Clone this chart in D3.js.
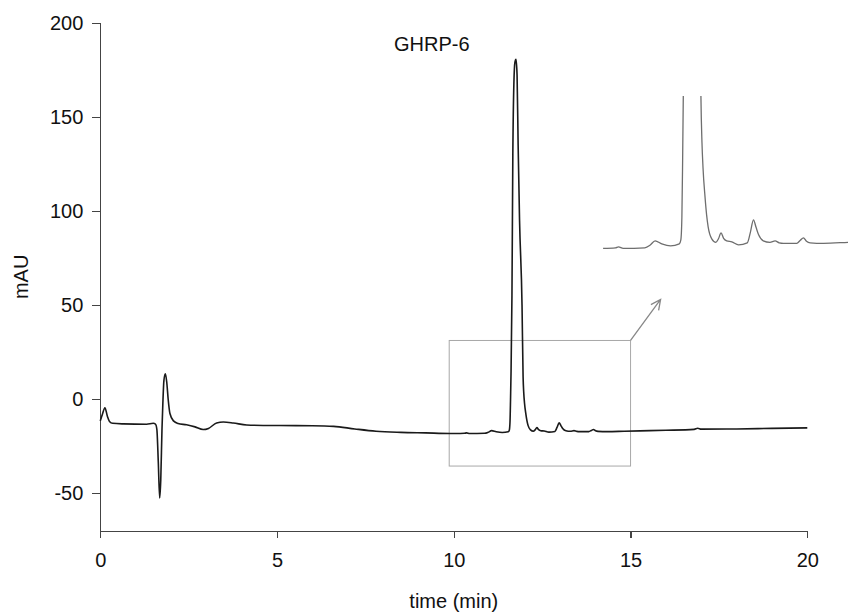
<!DOCTYPE html>
<html>
<head>
<meta charset="utf-8">
<script src="https://cdn.jsdelivr.net/npm/d3@7"></script>
<style>
  body { margin: 0; background: #fff; }
  svg text { font-family: "Liberation Sans", Arial, sans-serif; fill: #111; }
  .axis path, .axis line { stroke: #444; stroke-width: 1.2; shape-rendering: crispEdges; }
  .axis text { font-size: 20px; }
  .trace { fill: none; stroke: #1a1a1a; stroke-width: 1.6; }
  .trace-inset { fill: none; stroke: #6e6e6e; stroke-width: 1.3; }
  .zoom-box { fill: none; stroke: #a8a8a8; stroke-width: 1; }
  .arrow { fill: none; stroke: #888; stroke-width: 1.3; }
</style>
</head>
<body>
<svg id="chart"></svg>
<script>
'use strict';

var times = [0.00, 0.06, 0.13, 0.20, 0.26, 0.35, 0.65, 1.31, 1.50, 1.56, 1.60, 1.64, 1.68, 1.71, 1.745,
  1.77, 1.80, 1.84, 1.88, 1.92, 1.97, 2.07, 2.20, 2.44, 2.68, 2.91, 3.06, 3.29, 3.48, 3.76, 4.14,
  5.08, 6.00, 6.60, 7.20, 7.80, 8.50, 9.20, 9.90, 10.06, 10.30, 10.36, 10.45, 10.87, 10.97, 11.07,
  11.20, 11.37, 11.54, 11.57, 11.59, 11.605, 11.62, 11.645, 11.67, 11.70, 11.73, 11.76, 11.79, 11.82,
  11.86, 11.93, 11.96, 11.98, 12.00, 12.04, 12.07, 12.10, 12.17, 12.25, 12.30, 12.35, 12.40, 12.46,
  12.56, 12.69, 12.86, 12.92, 12.98, 13.03, 13.08, 13.17, 13.30, 13.40, 13.48, 13.56, 13.82, 13.89,
  13.95, 14.01, 14.08, 14.34, 14.82, 15.27, 16.00, 16.80, 16.90, 17.00, 18.00, 19.00, 20.00];
var mAU = [-11.5, -8.0, -4.5, -9.0, -11.8, -12.8, -13.1, -13.3, -12.8, -13.2, -16.0, -33.0, -52.5, -43.0, -16.0,
  -2.0, 10.0, 13.5, 9.0, 0.0, -7.6, -11.5, -12.9, -13.6, -14.7, -16.1, -15.5, -12.6, -12.1, -12.6, -13.7,
  -14.0, -14.1, -14.4, -15.8, -17.0, -17.6, -17.9, -18.2, -18.2, -18.1, -17.9, -18.2, -18.1, -17.6, -16.7,
  -17.3, -17.7, -17.3, -16.5, -12.0, 0.0, 15.0, 55.0, 130.0, 168.0, 179.0, 180.5, 172.0, 135.0,
  95.0, 50.0, 12.0, 3.0, -2.0, -8.0, -11.5, -13.9, -16.3, -17.0, -16.3, -15.1, -16.2, -16.7,
  -16.9, -17.5, -17.1, -15.0, -12.5, -14.0, -15.5, -16.7, -17.0, -16.7, -17.1, -17.2, -17.2, -16.6,
  -16.1, -16.8, -17.1, -17.2, -17.0, -16.8, -16.5, -16.0, -15.4, -15.9, -15.8, -15.5, -15.2];

var xTicks = [0, 5, 10, 15, 20];
var yTicks = [-50, 0, 50, 100, 150, 200];
var xDomain = [0, 20];
var yDomain = [-70, 200];

// ventana ampliada (min, mAU) y rango del recuadro
var zoomTime = [9.87, 15.0];
var zoomMAU = [-35.5, 31.2];
var insetTime = [10.0, 15.0];
var insetMAU = [-18.2, 12.3];
var insetStart = 10.06;
var arrowFrom = [15.0, 31.2];
var arrowTo = [15.85, 53.0];

var peakLabel = 'GHRP-6';
var xTitle = 'time (min)';
var yTitle = 'mAU';

function chromatogram() {
    var w = 848;
    var h = 614;
    var svg = d3.select('#chart').attr('width', w).attr('height', h);
    var scales = {};

    var data = times.map(function (t, i) {
        return { t: t, v: mAU[i] };
    });

    // guion normal en lugar del signo menos de d3.format
    var plain = function (d) {
        return String(d);
    };

    function setupScales() {
        scales.x = d3.scaleLinear().domain(xDomain).range([100.3, 807.3]);
        scales.y = d3.scaleLinear().domain(yDomain).range([531, 22.7]);
        // escalas del recuadro ampliado
        scales.ix = d3.scaleLinear().domain(insetTime).range([600, 857.5]);
        scales.iy = d3.scaleLinear().domain(insetMAU).range([248.3, 96]);
    }

    function drawAxes() {
        var axisX = d3.axisBottom(scales.x).tickValues(xTicks).tickFormat(plain)
            .tickSizeInner(7).tickSizeOuter(0).tickPadding(15);
        svg.append('g').attr('class', 'axis axis-x')
            .attr('transform', 'translate(0,' + scales.y(yDomain[0]) + ')')
            .call(axisX);

        var axisY = d3.axisLeft(scales.y).tickValues(yTicks).tickFormat(plain)
            .tickSizeInner(8).tickSizeOuter(0).tickPadding(9);
        svg.append('g').attr('class', 'axis axis-y')
            .attr('transform', 'translate(' + scales.x(xDomain[0]) + ',0)')
            .call(axisY);

        svg.selectAll('.axis .domain').attr('stroke', '#444');

        svg.append('text').attr('x', (scales.x(xDomain[0]) + scales.x(xDomain[1])) / 2).attr('y', 608)
            .attr('text-anchor', 'middle').style('font-size', '20px').text(xTitle);

        svg.append('text').attr('transform', 'translate(28,' + (scales.y(yDomain[0]) + scales.y(yDomain[1])) / 2 + ') rotate(-90)')
            .attr('text-anchor', 'middle').style('font-size', '20px').text(yTitle);
    }

    function drawTrace() {
        var line = d3.line().x(function (d) {
            return scales.x(d.t);
        }).y(function (d) {
            return scales.y(d.v);
        }).curve(d3.curveMonotoneX);

        svg.append('path').datum(data).attr('class', 'trace').attr('d', line);

        // etiqueta del pico, a la izquierda como en el original
        svg.append('text').attr('x', 394).attr('y', 51)
            .attr('text-anchor', 'start').style('font-size', '20px').text(peakLabel);
    }

    function drawInset() {
        svg.append('rect').attr('class', 'zoom-box')
            .attr('x', scales.x(zoomTime[0])).attr('y', scales.y(zoomMAU[1]))
            .attr('width', scales.x(zoomTime[1]) - scales.x(zoomTime[0]))
            .attr('height', scales.y(zoomMAU[0]) - scales.y(zoomMAU[1]));

        // flecha hacia el recuadro
        var x1 = scales.x(arrowFrom[0]), y1 = scales.y(arrowFrom[1]);
        var x2 = scales.x(arrowTo[0]), y2 = scales.y(arrowTo[1]);
        var ang = Math.atan2(y2 - y1, x2 - x1);
        var head = 11, spread = 0.45;
        svg.append('path').attr('class', 'arrow')
            .attr('d', 'M' + x1 + ',' + y1 + 'L' + x2 + ',' + y2 +
                'M' + (x2 - head * Math.cos(ang - spread)) + ',' + (y2 - head * Math.sin(ang - spread)) +
                'L' + x2 + ',' + y2 +
                'L' + (x2 - head * Math.cos(ang + spread)) + ',' + (y2 - head * Math.sin(ang + spread)));

        svg.append('clipPath').attr('id', 'inset-clip').append('rect')
            .attr('x', scales.ix(insetStart)).attr('y', scales.iy(insetMAU[1]))
            .attr('width', w - scales.ix(insetStart)).attr('height', 200);

        var insetLine = d3.line().x(function (d) {
            return scales.ix(d.t);
        }).y(function (d) {
            return scales.iy(d.v);
        }).curve(d3.curveMonotoneX);

        var insetData = data.filter(function (d) {
            return d.t >= insetStart && d.t <= insetTime[1] + 0.5;
        });

        svg.append('path').datum(insetData).attr('class', 'trace-inset')
            .attr('clip-path', 'url(#inset-clip)').attr('d', insetLine);
    }

    setupScales();
    drawAxes();
    drawInset();
    drawTrace();
}

chromatogram();
</script>
</body>
</html>
